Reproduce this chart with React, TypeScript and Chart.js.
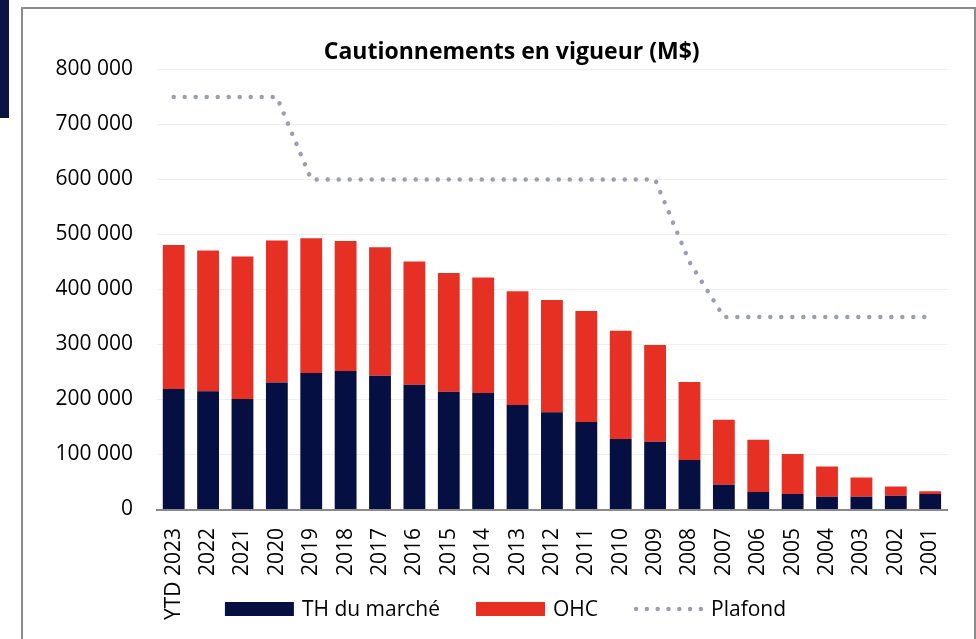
import React, { useEffect, useRef } from 'react';
import { Chart, registerables } from 'chart.js';

Chart.register(...registerables);

const categories = [
  'YTD 2023', '2022', '2021', '2020', '2019', '2018', '2017', '2016', '2015', '2014', '2013', '2012',
  '2011', '2010', '2009', '2008', '2007', '2006', '2005', '2004', '2003', '2002', '2001',
];

const thMarche = [
  219000, 215000, 201000, 231000, 248000, 252000, 243000, 227000, 214000, 212000, 190000, 177000,
  159000, 128000, 123000, 90000, 45000, 32000, 28000, 23000, 23000, 25000, 28000,
];

const ohc = [
  262000, 256000, 259000, 258000, 245000, 236000, 234000, 224000, 216000, 210000, 207000, 204000,
  202000, 197000, 176000, 142000, 118000, 95000, 73000, 55000, 35000, 17000, 5000,
];

const plafond = [
  750000, 750000, 750000, 750000, 600000, 600000, 600000, 600000, 600000, 600000, 600000, 600000,
  600000, 600000, 600000, 450000, 350000, 350000, 350000, 350000, 350000, 350000, 350000,
];

const seriesNames = ['TH du marché', 'OHC', 'Plafond'];
const titleText = 'Cautionnements en vigueur (M$)';

const NAVY = '#050f42';
const RED = '#e63024';
const DOT = '#9a9db3';
const FONT = "'Open Sans', 'Liberation Sans', sans-serif";

const fmt = (v: number) => String(v).replace(/\B(?=(\d{3})+(?!\d))/g, ' ');

// Legend drawn on the canvas, overlapping the x-axis label band like the original.
const bottomLegend = {
  id: 'bottomLegend',
  afterDraw(chart: any) {
    const ctx = chart.ctx as CanvasRenderingContext2D;
    const datasets = chart.data.datasets;
    const boxW = 69;
    const boxH = 14;
    const gap = 8;
    const spacing = 36;
    const centerX = 482.5;
    const centerY = 600;
    ctx.save();
    ctx.font = `21px ${FONT}`;
    ctx.textBaseline = 'middle';
    ctx.textAlign = 'left';
    const widths = datasets.map((d: any) => boxW + gap + ctx.measureText(d.label).width);
    const total = widths.reduce((a: number, b: number) => a + b, 0) + spacing * (datasets.length - 1);
    let x = centerX - total / 2;
    datasets.forEach((d: any, i: number) => {
      if (d.type === 'line') {
        ctx.save();
        ctx.strokeStyle = d.borderColor;
        ctx.lineWidth = d.borderWidth;
        ctx.lineCap = 'round';
        ctx.setLineDash([0.001, 10.8]);
        ctx.beginPath();
        ctx.moveTo(x + 2, centerY);
        ctx.lineTo(x + boxW, centerY);
        ctx.stroke();
        ctx.restore();
      } else {
        ctx.fillStyle = d.backgroundColor;
        ctx.fillRect(x, centerY - boxH / 2, boxW, boxH);
      }
      ctx.fillStyle = '#000';
      ctx.fillText(d.label, x + boxW + gap, centerY + 1);
      x += widths[i] + spacing;
    });
    ctx.restore();
  },
};

export default function App() {
  const ref = useRef<HTMLCanvasElement>(null);

  useEffect(() => {
    const canvas = ref.current;
    if (!canvas) return;
    const chart = new Chart(canvas, {
      type: 'bar',
      data: {
        labels: categories,
        datasets: [
          {
            type: 'bar',
            label: seriesNames[0],
            data: thMarche,
            backgroundColor: NAVY,
            borderWidth: 0,
            stack: 'bars',
            barPercentage: 0.635,
            categoryPercentage: 1,
          },
          {
            type: 'bar',
            label: seriesNames[1],
            data: ohc,
            backgroundColor: RED,
            borderWidth: 0,
            stack: 'bars',
            barPercentage: 0.635,
            categoryPercentage: 1,
          },
          {
            type: 'line',
            label: seriesNames[2],
            data: plafond,
            borderColor: DOT,
            backgroundColor: DOT,
            borderWidth: 4.5,
            borderDash: [0.001, 11],
            borderCapStyle: 'round',
            borderJoinStyle: 'round',
            pointRadius: 0,
            tension: 0,
            fill: false,
            stack: 'plafond',
          } as any,
        ],
      },
      options: {
        responsive: false,
        animation: false,
        events: [],
        layout: { padding: { left: 31.7, right: 5.3, top: 0, bottom: 0 } },
        scales: {
          x: {
            stacked: true,
            grid: { display: false, drawTicks: false },
            border: { display: true, color: '#8a8a8a', width: 2 },
            ticks: {
              autoSkip: false,
              minRotation: 90,
              maxRotation: 90,
              padding: 18.5,
              color: '#000',
              font: { family: FONT, size: 21 },
            },
            afterFit: (s: any) => {
              s.height = 129.5;
            },
          },
          y: {
            stacked: true,
            min: 0,
            max: 800000,
            grid: { color: '#efefef', lineWidth: 1, drawTicks: false },
            border: { display: false },
            ticks: {
              stepSize: 100000,
              padding: 23.5,
              color: '#000',
              font: { family: FONT, size: 21 },
              callback: (v: any) => fmt(Number(v)),
            },
            afterFit: (s: any) => {
              s.width = 101.8;
            },
          },
        },
        plugins: {
          tooltip: { enabled: false },
          legend: { display: false },
          title: {
            display: true,
            text: titleText,
            color: '#000',
            font: { family: FONT, size: 23, weight: 'bold' },
            padding: { top: 29.2, bottom: 3.7 },
          },
        },
      },
      plugins: [bottomLegend],
    });
    return () => chart.destroy();
  }, []);

  return (
    <div
      style={{
        position: 'fixed',
        left: 0,
        top: 0,
        width: 976,
        height: 639,
        overflow: 'hidden',
        background: '#fff',
      }}
    >
      <div style={{ position: 'absolute', left: 0, top: 0, width: 9, height: 118, background: '#0b1442' }} />
      <div
        style={{
          position: 'absolute',
          left: 21,
          top: 7,
          width: 955,
          height: 700,
          boxSizing: 'border-box',
          border: '2px solid #8c8c8c',
        }}
      />
      <canvas
        ref={ref}
        width={951}
        height={630}
        style={{ position: 'absolute', left: 23, top: 9, width: 951, height: 630 }}
      />
    </div>
  );
}
